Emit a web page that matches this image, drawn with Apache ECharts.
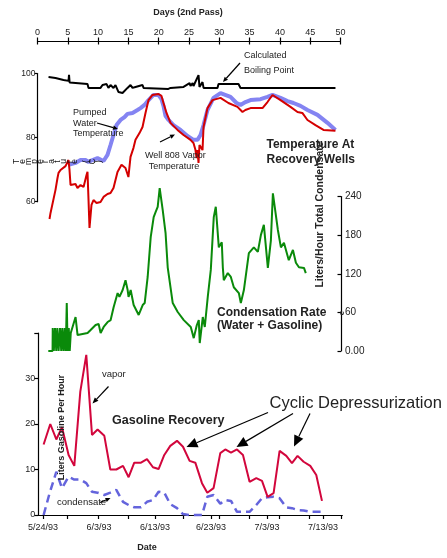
<!DOCTYPE html>
<html>
<head>
<meta charset="utf-8">
<script src="https://cdn.jsdelivr.net/npm/echarts@6/dist/echarts.min.js"></script>
<style>html,body{margin:0;padding:0;background:#fff;}#c{width:447px;height:558px;}</style>
</head>
<body>
<div id="c"></div>
<script>
// ---------- DATA ----------
// Top panel: days (2nd pass) vs temperature
const dayTicks = [0, 5, 10, 15, 20, 25, 30, 35, 40, 45, 50];
const tempTicks = [60, 80, 100];
const boilingPoint = [[1.82,98.9],[2.97,98.6],[4.29,98.0],[5.12,97.7],[5.2,99.6],[5.3,97.2],[8.25,96.7],[8.42,95.5],[10.4,95.5],[10.73,96.4],[11.06,95.8],[11.4,96.7],[11.7,95.5],[12.05,96.4],[12.54,95.5],[12.87,96.4],[13.37,94.2],[14.03,93.9],[14.85,95.5],[15.35,96.4],[15.68,95.5],[16.17,95.8],[17.33,96.4],[17.5,95.5],[21.6,95.2],[21.95,95.5],[24.1,95.8],[24.4,96.4],[25.1,97.0],[25.25,96.1],[25.6,97.0],[25.74,96.1],[26.57,99.5],[26.73,95.8],[27.23,97.3],[27.4,95.5],[29.7,95.5],[29.87,96.7],[33.17,96.7],[33.5,95.5],[38.7,95.5],[38.9,94.9],[39.1,95.5],[42.0,95.5],[42.2,95.1],[42.4,95.5],[49.17,95.5]];
const pumpedWater = [[5.12,71.5],[6.27,72.1],[7.1,73.0],[7.92,73.0],[8.42,72.4],[9.08,73.0],[9.9,73.6],[10.9,72.7],[11.55,74.6],[12.05,77.7],[12.54,80.8],[13.04,83.9],[13.7,85.5],[14.36,86.4],[14.85,87.4],[15.68,87.7],[16.5,88.6],[17.0,89.2],[17.66,90.2],[18.32,91.7],[19.14,93.3],[19.97,93.3],[20.46,92.0],[20.79,89.9],[21.12,86.8],[21.62,85.5],[22.44,83.9],[23.6,82.4],[24.75,80.5],[25.74,79.3],[26.4,79.3],[26.9,80.8],[27.4,83.9],[28.05,88.6],[29.04,92.4],[30.2,93.9],[30.53,94.2],[31.85,92.7],[32.84,90.8],[33.5,90.2],[34.32,91.1],[35.15,91.7],[36.8,92.0],[37.95,92.7],[38.78,93.3],[40.1,92.4],[41.25,91.4],[42.24,90.8],[43.4,89.9],[44.55,88.6],[46.2,87.1],[47.85,84.6],[49.17,82.4]];
const vaporTemp = [[1.98,54.6],[2.15,56.5],[2.48,57.1],[2.97,63.7],[3.3,67.4],[3.47,69.0],[3.8,69.9],[4.13,69.3],[4.62,71.1],[5.12,73.0],[5.28,69.9],[5.45,65.2],[5.78,64.6],[6.27,65.5],[6.6,64.3],[7.1,65.2],[7.6,64.6],[8.09,68.3],[8.25,69.3],[8.42,60.5],[8.58,51.8],[8.91,59.0],[9.24,60.5],[9.74,59.6],[10.4,59.9],[10.9,61.5],[11.55,62.4],[12.05,62.7],[12.54,64.3],[12.87,66.8],[13.2,69.3],[13.37,69.9],[13.86,71.5],[14.19,72.1],[14.52,70.5],[14.85,70.8],[15.0,67.7],[15.35,74.0],[15.84,76.8],[16.17,79.3],[16.5,79.3],[16.83,81.4],[17.33,83.3],[17.82,87.7],[18.32,91.7],[18.98,93.3],[19.97,93.6],[20.46,93.0],[20.79,90.8],[21.29,87.7],[21.95,84.6],[23.1,82.4],[24.1,80.8],[25.25,79.3],[25.74,78.3],[26.07,76.1],[26.24,73.6],[26.4,76.1],[26.57,72.1],[26.73,77.7],[26.9,78.3],[27.23,76.1],[27.4,83.3],[28.05,89.2],[28.88,91.7],[30.2,92.4],[31.5,90.8],[33.0,89.6],[33.83,88.0],[34.3,88.6],[35.15,89.2],[37.13,89.2],[37.95,91.1],[38.78,93.3],[40.1,91.7],[41.75,89.6],[42.9,88.0],[43.7,87.7],[44.55,85.5],[45.87,83.9],[47.19,82.4],[49.17,82.1]];

// Middle panel: condensation rate (liters/hour)
const condTicks = [0, 60, 120, 180, 240];
const condensation = [[1.78,0],[2.48,0],[2.51,35.7],[2.69,0],[2.89,35.7],[3.09,0],[3.27,35.7],[3.48,0],[3.71,35.7],[3.91,0],[4.09,35.7],[4.29,0],[4.49,35.7],[4.65,0],[4.82,74.5],[4.98,0],[5.15,35.7],[5.31,0],[5.48,28],[5.78,28],[6.27,52.8],[6.6,24.8],[8.25,28],[8.75,32.6],[9.57,40.4],[10.07,42],[10.4,28],[10.9,37.3],[11.55,45],[12.05,48],[12.54,68],[13.2,90],[13.5,84],[14.03,94.7],[14.5,110],[14.85,94.7],[15.0,84],[15.35,94.7],[15.84,71.4],[16.67,56],[17.33,71.4],[17.66,74.5],[18.15,115],[18.65,177],[19.14,208],[19.47,216],[19.8,224],[20.13,253],[20.63,219],[21.1,183],[21.45,130],[22.28,74.5],[23.1,60.6],[24.1,48],[25.25,37.3],[25.74,20],[26.24,40],[26.57,48],[26.73,12.4],[27.23,52.8],[27.56,37.3],[28.05,84],[28.55,126],[29.04,208],[29.37,224],[29.87,161],[30.36,169],[30.53,130],[30.69,110],[31.35,121],[31.85,115],[32.34,99],[33.17,90],[33.5,74.5],[34.0,94.7],[34.82,152],[35.64,161],[36.3,154],[36.8,180],[37.29,196],[37.95,129],[38.45,172],[38.78,245],[38.94,245],[39.6,188],[40.1,161],[40.6,168],[41.4,141],[42.08,157],[42.57,137],[43.07,130],[43.9,129],[44.2,121]];

// Bottom panel: gasoline recovery (days after 5/24/93)
const dateTickDays = [0, 10, 20, 30, 40, 50];
const dateLabels = ['5/24/93', '6/3/93', '6/13/93', '6/23/93', '7/3/93', '7/13/93'];
const dateMarkDays = [0, 4.4, 9.9, 15.2, 20.1, 25.1, 30.1, 31.5, 36.8, 40.1, 42.2, 47.6, 50.1, 53.3];
const gasTicks = [0, 10, 20, 30, 40];
const gasVapor = [[0.11,15.5],[1.3,20],[2.38,16.6],[3.39,19.3],[4.57,13.2],[5.59,10.8],[6.66,27.1],[7.73,35.2],[8.75,17.6],[9.75,18.8],[10.95,17.4],[12.02,10],[13.09,10],[14.29,10.8],[15.29,8.3],[16.3,11.5],[17.5,11.5],[18.57,12.3],[19.64,10.5],[20.64,10.1],[21.66,13.2],[22.73,15.2],[23.93,16.3],[25,15],[26.18,11.9],[27.2,11.5],[28.39,7],[29.34,4.9],[30.46,5.9],[31.66,13.6],[32.55,14.4],[33.57,13.7],[34.64,14.4],[35.71,13.2],[36.89,7.3],[38.09,8.1],[39.11,7.5],[40.11,4],[41.18,4.8],[42.25,14.1],[43.45,13],[44.46,11.4],[45.46,13],[46.54,11.7],[47.73,10.8],[48.8,8.8],[49.82,3.1]];
const gasCondensate = [[0.11,0],[1.18,4.8],[2.38,9.5],[3.39,5.9],[4.57,8.4],[5.59,7.8],[6.66,7.8],[7.73,7],[8.75,5.1],[9.75,4.9],[10.95,4.4],[12.02,4.9],[13.09,5.5],[14.29,2.9],[15.29,2.2],[16.3,1.7],[17.5,1.7],[18.57,2.9],[19.64,3.3],[20.64,5.1],[21.66,4.9],[22.73,2.4],[23.93,1.5],[25,0.2],[26.18,0],[27.2,0],[28.39,0],[29.34,4],[30.46,4.4],[31.66,2.5],[32.55,3.3],[33.57,3.1],[34.64,0.7],[35.71,0.7],[36.89,0.7],[38.09,2.2],[39.11,3.7],[40.11,3.9],[41.18,4],[42.25,3.7],[43.45,1.7],[44.46,1.5],[45.46,1.1],[46.54,1],[47.73,0.7],[48.8,0.7],[49.82,0.7]];

// ---------- CHART ----------
const FONT = '"Liberation Sans", Arial, Helvetica, sans-serif';
const INK = '#222';
const chart = echarts.init(document.getElementById('c'), null, {renderer: 'canvas'});

function txt(x, y, text, size, opts) {
  opts = opts || {};
  return {
    type: 'text', x: x, y: y, rotation: opts.rotation || 0, z: 100,
    style: {
      text: text, fontSize: size, fontFamily: FONT, fontWeight: opts.bold ? 'bold' : 'normal',
      fill: opts.fill || INK, align: opts.align || 'left', verticalAlign: 'middle'
    }
  };
}
function arrow(x1, y1, x2, y2, len, half) {
  const a = Math.atan2(y2 - y1, x2 - x1);
  const bx = x2 - len * Math.cos(a), by = y2 - len * Math.sin(a);
  const px = -Math.sin(a) * half, py = Math.cos(a) * half;
  return [
    {type: 'line', z: 100, shape: {x1: x1, y1: y1, x2: bx, y2: by}, style: {stroke: '#000', lineWidth: 1.2}},
    {type: 'polygon', z: 100, shape: {points: [[x2, y2], [bx + px, by + py], [bx - px, by - py]]}, style: {fill: '#000'}}
  ];
}

const graphics = [
  txt(188, 13, 'Days (2nd Pass)', 9, {bold: true, align: 'center'}),
  txt(244, 56, 'Calculated', 9),
  txt(244, 71, 'Boiling Point', 9),
  txt(73, 113, 'Pumped', 9),
  txt(73, 123.5, 'Water', 9),
  txt(73, 134, 'Temperature', 9),
  txt(145, 156, 'Well 808 Vapor', 9),
  txt(174, 166.5, 'Temperature', 9, {align: 'center'}),
  txt(266.5, 145, 'Temperature At', 12, {bold: true}),
  txt(266.5, 159.5, 'Recovery Wells', 12, {bold: true}),
  txt(217, 312.5, 'Condensation Rate', 12, {bold: true}),
  txt(217, 326, '(Water + Gasoline)', 12, {bold: true}),
  txt(320, 214.5, 'Liters/Hour Total Condensate', 10.5, {bold: true, align: 'center', rotation: Math.PI / 2}),
  txt(341.5, 313, 'e', 8, {bold: true, align: 'center', rotation: Math.PI / 2}),
  txt(102, 374, 'vapor', 9.5),
  txt(112, 421, 'Gasoline Recovery', 12.5, {bold: true}),
  txt(62, 427.5, 'Liters Gasoline Per Hour', 9, {bold: true, align: 'center', rotation: Math.PI / 2}),
  txt(57, 502, 'condensate', 9.5),
  txt(269.5, 403, 'Cyclic Depressurization', 16.5),
  txt(147, 548, 'Date', 9, {bold: true, align: 'center'})
];
// garbled rotated-glyph temperature label
const garbled = 'Temperature (C)';
for (let i = 0; i < garbled.length; i++) {
  graphics.push(txt(17 + i * 5.8, 161.5, garbled[i], 8.5, {align: 'center', rotation: Math.PI / 2, fill: '#111'}));
}
[
  [240, 63, 223, 82, 5, 2.2],
  [97, 123, 118, 129, 5, 2.2],
  [160, 142, 175, 134.5, 5, 2.2],
  [108.5, 386.5, 92.5, 403.5, 6, 2.5],
  [100, 502.5, 110.5, 498, 5, 2.2],
  [268, 412.5, 186.5, 447, 11, 5],
  [293, 413.5, 236.5, 447, 11, 5],
  [310, 413.5, 294, 446.5, 11, 5]
].forEach(function (a) { graphics.push.apply(graphics, arrow(a[0], a[1], a[2], a[3], a[4], a[5])); });

const lineBlack = {color: '#000', width: 1.2};
const labelBase = {fontFamily: FONT, color: INK};

const option = {
  animation: false,
  backgroundColor: '#fff',
  grid: [
    {left: 37.5, top: 73.5, width: 303, height: 128.2},
    {left: 37.5, top: 196.5, width: 303.5, height: 154.5},
    {left: 38.3, top: 333, width: 304, height: 182}
  ],
  xAxis: [
    {gridIndex: 0, type: 'value', position: 'top', offset: 32.5, min: 0, max: 50, interval: 5,
      axisLine: {onZero: false, lineStyle: lineBlack}, axisTick: {length: 3.5, lineStyle: lineBlack},
      axisLabel: Object.assign({fontSize: 9, margin: 4}, labelBase), splitLine: {show: false}},
    {gridIndex: 0, type: 'value', position: 'top', offset: 32.5, min: 0, max: 50, interval: 5,
      axisLine: {show: false, onZero: false}, axisTick: {inside: true, length: 3.5, lineStyle: lineBlack},
      axisLabel: {show: false}, splitLine: {show: false}},
    {gridIndex: 1, type: 'value', min: 0, max: 50, show: false},
    {gridIndex: 2, type: 'value', position: 'bottom', min: -0.84, max: 53.45,
      axisLine: {onZero: false, lineStyle: lineBlack},
      axisTick: {length: 4, customValues: dateMarkDays, lineStyle: lineBlack},
      axisLabel: Object.assign({fontSize: 9, margin: 8, customValues: dateTickDays,
        formatter: function (v) { const i = dateTickDays.indexOf(v); return i >= 0 ? dateLabels[i] : ''; }}, labelBase),
      splitLine: {show: false}}
  ],
  yAxis: [
    {gridIndex: 0, type: 'value', min: tempTicks[0], max: tempTicks[tempTicks.length - 1], interval: 20,
      axisLine: {show: true, onZero: false, lineStyle: lineBlack},
      axisTick: {show: true, length: 3, lineStyle: lineBlack},
      axisLabel: Object.assign({fontSize: 8.5, margin: 2}, labelBase), splitLine: {show: false}},
    {gridIndex: 1, type: 'value', position: 'right', min: condTicks[0], max: condTicks[condTicks.length - 1], interval: 60,
      axisLine: {show: true, onZero: false, lineStyle: lineBlack},
      axisTick: {show: true, inside: true, length: 3.5, lineStyle: lineBlack},
      axisLabel: Object.assign({fontSize: 10, margin: 4, formatter: function (v) { return v === 0 ? '0.00' : String(v); }}, labelBase),
      splitLine: {show: false}},
    {gridIndex: 2, type: 'value', min: gasTicks[0], max: gasTicks[gasTicks.length - 1], interval: 10,
      axisLine: {show: true, onZero: false, lineStyle: lineBlack},
      axisTick: {show: true, length: 4, lineStyle: lineBlack},
      axisLabel: Object.assign({fontSize: 9, margin: 3, formatter: function (v) { return v === 40 ? '' : String(v); }}, labelBase),
      splitLine: {show: false}}
  ],
  series: [
    {name: 'Pumped Water Temperature', type: 'line', xAxisIndex: 0, yAxisIndex: 0, data: pumpedWater,
      showSymbol: false, clip: false, lineStyle: {color: '#8484f2', width: 4}, z: 2},
    {name: 'Well 808 Vapor Temperature', type: 'line', xAxisIndex: 0, yAxisIndex: 0, data: vaporTemp,
      showSymbol: false, clip: false, lineStyle: {color: '#d40000', width: 2}, z: 3},
    {name: 'Calculated Boiling Point', type: 'line', xAxisIndex: 0, yAxisIndex: 0, data: boilingPoint,
      showSymbol: false, clip: false, lineStyle: {color: '#000', width: 2}, z: 4},
    {name: 'Condensation Rate', type: 'line', xAxisIndex: 2, yAxisIndex: 1, data: condensation,
      showSymbol: false, clip: false, lineStyle: {color: '#0a8a0a', width: 2}, z: 3},
    {name: 'condensate', type: 'line', xAxisIndex: 3, yAxisIndex: 2, data: gasCondensate,
      showSymbol: false, clip: false, lineStyle: {color: '#6464dc', width: 2.5, type: [8, 5]}, z: 3},
    {name: 'vapor', type: 'line', xAxisIndex: 3, yAxisIndex: 2, data: gasVapor,
      showSymbol: false, clip: false, lineStyle: {color: '#d2063c', width: 2}, z: 4}
  ],
  graphic: graphics
};
chart.setOption(option);
</script>
</body>
</html>
